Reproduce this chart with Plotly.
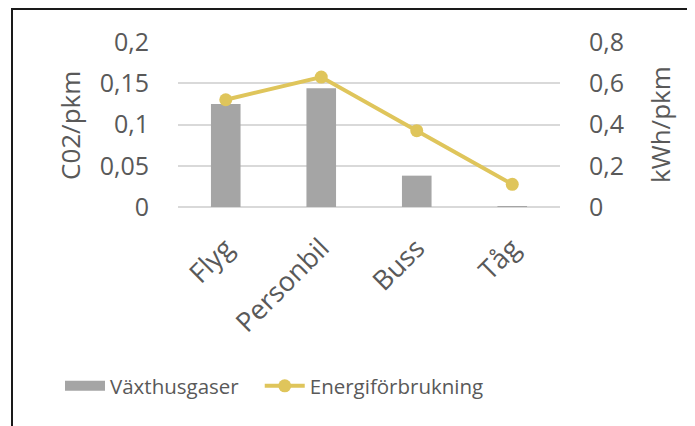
import plotly.graph_objects as go

categories = ["Flyg", "Personbil", "Buss", "Tåg"]
co2_values = [0.125, 0.144, 0.038, 0.001]
energy_values = [0.52, 0.63, 0.37, 0.11]
bar_name = "Växthusgaser"
line_name = "Energiförbrukning"
left_title = "C02/pkm"
right_title = "kWh/pkm"

FONT = "Open Sans"
TXT = "#595959"
BAR = "#a5a5a5"
LINE = "#dfc55b"

# page body has an 8px margin; compensate so plot area sits at x 178-560, y 42-207
L, T = 170, 34
PW, PH = 382, 165

fig = go.Figure()
fig.add_trace(go.Bar(x=categories, y=co2_values, name=bar_name,
                     marker=dict(color=BAR, line=dict(width=0)),
                     width=0.31, yaxis="y", showlegend=False))
# legend swatch for the bars (wide rectangle like the reference)
fig.add_trace(go.Scatter(x=[None], y=[None], name=bar_name + "\u00a0\u00a0\u00a0", mode="lines",
                         line=dict(color=BAR, width=15), yaxis="y",
                         hoverinfo="skip"))
fig.add_trace(go.Scatter(x=categories, y=energy_values, name=line_name,
                         mode="lines+markers",
                         line=dict(color=LINE, width=4),
                         marker=dict(color=LINE, size=13),
                         yaxis="y2"))

fig.update_layout(
    width=695, height=426,
    margin=dict(l=L, r=695 - L - PW, t=T, b=426 - T - PH, autoexpand=False),
    paper_bgcolor="white", plot_bgcolor="white",
    separators=", ",
    font=dict(family=FONT, color=TXT, size=22),
    showlegend=True,
    legend=dict(orientation="h", x=(60 - 178) / PW, xanchor="left",
                y=(207 - 386) / PH, yanchor="middle",
                font=dict(size=20.5, color=TXT), itemwidth=40,
                traceorder="normal", tracegroupgap=0,
                bgcolor="rgba(0,0,0,0)"),
    xaxis=dict(tickangle=-45, showgrid=False, showline=False, ticks="",
               tickfont=dict(size=27, color=TXT), range=[-0.5, 3.5],
               ticklabelstandoff=19),
    yaxis=dict(range=[0, 0.2], dtick=0.05, showgrid=True, gridcolor="#d9d9d9",
               gridwidth=1.5, zeroline=True, zerolinecolor="#d9d9d9", zerolinewidth=1.5,
               tickfont=dict(size=25, color=TXT), ticks="", showline=False,
               ticklabelstandoff=28),
    yaxis2=dict(range=[0, 0.8], dtick=0.2, overlaying="y", side="right",
                showgrid=False, zeroline=False, showline=False, ticks="",
                tickfont=dict(size=25, color=TXT), ticklabelstandoff=28),
    annotations=[
        dict(text=left_title, textangle=-90, xref="paper", yref="paper",
             x=(70 - 178) / PW, y=(207 - 125) / PH, xanchor="center", yanchor="middle",
             showarrow=False, font=dict(size=26, color=TXT)),
        dict(text=right_title, textangle=-90, xref="paper", yref="paper",
             x=(660 - 178) / PW, y=(207 - 125) / PH, xanchor="center", yanchor="middle",
             showarrow=False, font=dict(size=26, color=TXT)),
    ],
    shapes=[dict(type="rect", xref="paper", yref="paper",
                 x0=(12 - 178) / PW, x1=(720 - 178) / PW,
                 y0=(207 - 450) / PH, y1=(207 - 9) / PH,
                 line=dict(color="#1a1a1a", width=2), fillcolor="rgba(0,0,0,0)",
                 layer="above")],
)

fig.write_html("out.html")
